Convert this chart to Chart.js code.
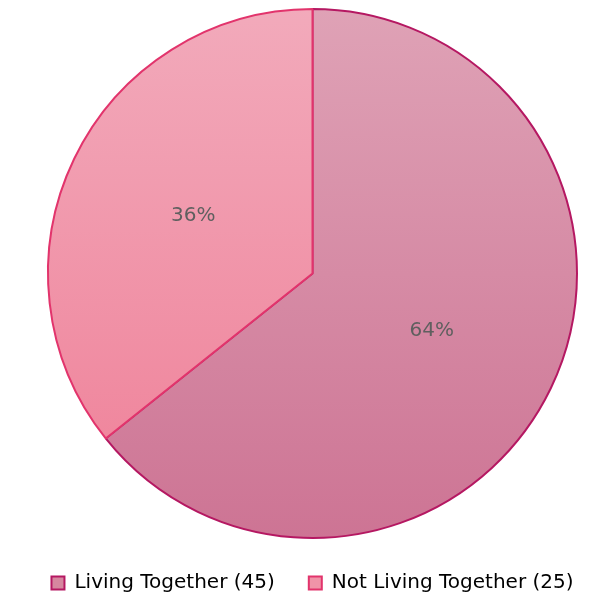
<!DOCTYPE html>
<html>
<head>
<meta charset="utf-8">
<script src="https://cdn.jsdelivr.net/npm/chart.js@4"></script>
<style>
  html, body { margin: 0; padding: 0; background: #fff; }
  #wrap { width: 615px; height: 606px; }
</style>
</head>
<body>
<div id="wrap"><canvas id="grafico"></canvas></div>
<script>
// dados do gráfico
const categorias = ['Living Together', 'Not Living Together'];
const valores = [45, 25];
const rotulos = ['64%', '36%'];

// cores (gradiente topo -> base) e bordas
const coresTopo = ['#dfa2b6', '#f2aabb'];
const coresBase = ['#cd7494', '#ef7f97'];
const coresBorda = ['#b51862', '#e2346c'];

function gradiente(ctx, i) {
    const area = ctx.chart.chartArea;
    if (!area) return coresTopo[i];
    const g = ctx.chart.ctx.createLinearGradient(0, area.top, 0, area.bottom);
    g.addColorStop(0, coresTopo[i]);
    g.addColorStop(1, coresBase[i]);
    return g;
}

// plugin simples para escrever as percentagens dentro das fatias
const rotulosPlugin = {
    id: 'rotulos',
    afterDatasetsDraw(chart) {
        const ctx = chart.ctx;
        const meta = chart.getDatasetMeta(0);
        ctx.save();
        ctx.font = '20px "DejaVu Sans"';
        ctx.fillStyle = '#5f5f5f';
        ctx.textAlign = 'center';
        ctx.textBaseline = 'middle';
        meta.data.forEach((arc, i) => {
            const p = arc.tooltipPosition();
            ctx.fillText(rotulos[i], p.x, p.y);
        });
        ctx.restore();
    }
};

new Chart(document.getElementById('grafico'), {
    type: 'pie',
    data: {
        labels: categorias.map((c, i) => `${c} (${valores[i]})`),
        datasets: [{
            data: valores,
            backgroundColor: ctx => gradiente(ctx, ctx.dataIndex),
            borderColor: coresBorda,
            borderWidth: 2,
            borderAlign: 'center'
        }]
    },
    options: {
        responsive: true,
        maintainAspectRatio: false,
        animation: false,
        layout: { padding: { top: 8, left: 10, right: 0, bottom: 3 } },
        plugins: {
            tooltip: { enabled: false },
            legend: {
                position: 'bottom',
                labels: {
                    font: { family: 'DejaVu Sans', size: 20 },
                    color: '#707070',
                    boxWidth: 13,
                    boxHeight: 13,
                    padding: 34,
                    generateLabels(chart) {
                        return categorias.map((c, i) => ({
                            text: `${c} (${valores[i]})`,
                            fillStyle: i === 0 ? '#d6879f' : '#f094a8',
                            strokeStyle: coresBorda[i],
                            lineWidth: 2,
                            index: i
                        }));
                    }
                }
            }
        }
    },
    plugins: [rotulosPlugin]
});
</script>
</body>
</html>
